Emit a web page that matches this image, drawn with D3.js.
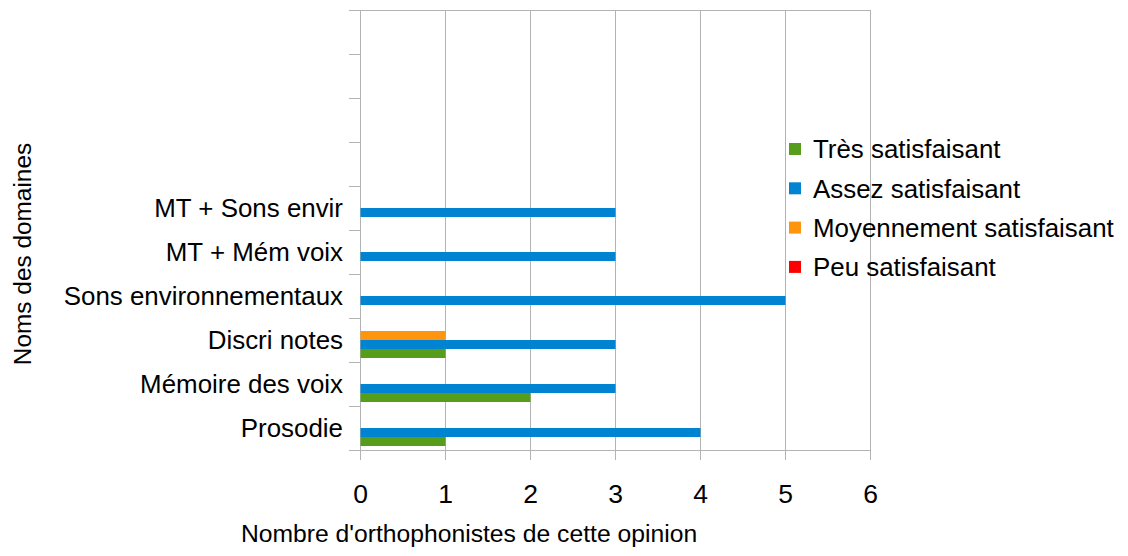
<!DOCTYPE html>
<html><head><meta charset="utf-8">
<script src="https://cdn.jsdelivr.net/npm/d3@7"></script>
<style>
html,body{margin:0;padding:0;background:#fff;}
svg text{font-family:"Liberation Sans",Arial,sans-serif;fill:#000;}
</style></head>
<body>
<svg id="c" width="1128" height="556"></svg>
<script>
const categories = ["Prosodie","Mémoire des voix","Discri notes","Sons environnementaux","MT + Mém voix","MT + Sons envir","","","",""];
const seriesNames = ["Très satisfaisant","Assez satisfaisant","Moyennement satisfaisant","Peu satisfaisant"];
const tres   = [1,2,1,0,0,0,0,0,0,0];
const assez  = [4,3,3,5,3,3,0,0,0,0];
const moyen  = [0,0,1,0,0,0,0,0,0,0];
const peu    = [0,0,0,0,0,0,0,0,0,0];
const xTicks = [0,1,2,3,4,5,6];
const colors = ["#579d1c","#0084d1","#ff950e","#ff0000"];
const xTitle = "Nombre d'orthophonistes de cette opinion";
const yTitle = "Noms des domaines";

const values = [tres, assez, moyen, peu];
const svg = d3.select("#c");
const L = 360, R = 870, T = 10, B = 450;
const grid = "#b3b3b3";
const fs = 25.9;

const x = d3.scaleLinear().domain([0,6]).range([L,R]);
const y = d3.scaleBand().domain(d3.range(categories.length)).range([B,T]).paddingInner(0).paddingOuter(0);
// within band: top to bottom = Peu, Moyen, Assez, Très
const inner = d3.scaleBand().domain([3,2,1,0]).range([0,y.bandwidth()]).paddingInner(0).paddingOuter(0.444);

// gridlines (vertical) incl. outer ticks
svg.append("g").selectAll("line").data(xTicks).join("line")
  .attr("x1", d=>x(d)+0.5).attr("x2", d=>x(d)+0.5)
  .attr("y1", T).attr("y2", B+10)
  .attr("stroke", grid).attr("stroke-width",1);
// top line and bottom axis line
svg.append("line").attr("x1",L-11).attr("x2",R+0.5).attr("y1",T+0.5).attr("y2",T+0.5).attr("stroke",grid);
svg.append("line").attr("x1",L-11).attr("x2",R+0.5).attr("y1",B+0.5).attr("y2",B+0.5).attr("stroke",grid);
// category boundary ticks
const bounds = d3.range(categories.length+1).map(i=> i<categories.length ? y(i)+y.bandwidth() : T);
svg.append("g").selectAll("line").data(bounds).join("line")
  .attr("x1", L-11).attr("x2", L)
  .attr("y1", d=>Math.round(d)+0.5).attr("y2", d=>Math.round(d)+0.5)
  .attr("stroke", grid);

// bars
values.forEach((arr, si) => {
  svg.append("g").selectAll("rect").data(arr.map((v,i)=>({v,i})).filter(d=>d.v>0)).join("rect")
    .attr("x", x(0)+0.5)
    .attr("y", d => y(d.i) + inner(si))
    .attr("width", d => x(d.v) - x(0))
    .attr("height", inner.bandwidth())
    .attr("fill", colors[si]);
});

// x axis labels
const xa = svg.append("g").attr("transform",`translate(0,${B})`)
  .call(d3.axisBottom(x).tickValues(xTicks).tickFormat(d3.format("d")).tickSize(0).tickPadding(34));
xa.select(".domain").remove();
xa.selectAll("text").style("font-size", "26.5px").attr("fill","#000");

// y axis labels
const ya = svg.append("g").attr("transform",`translate(${L},0)`)
  .call(d3.axisLeft(y).tickFormat(i=>categories[i]).tickSize(0).tickPadding(17));
ya.select(".domain").remove();
ya.selectAll("text").style("font-size", fs+"px").attr("fill","#000").attr("dy","0.36em");

// titles
svg.append("text").attr("x",469).attr("y",542).attr("text-anchor","middle")
  .style("font-size","24.7px").text(xTitle);
svg.append("text").attr("transform","translate(31,254) rotate(-90)").attr("text-anchor","middle")
  .style("font-size","24.4px").text(yTitle);

// legend
const lg = svg.append("g").selectAll("g").data(seriesNames).join("g")
  .attr("transform",(d,i)=>`translate(789,${149 + i*39.3})`);
lg.append("rect").attr("x",0).attr("y",-6).attr("width",12).attr("height",12).attr("fill",(d,i)=>colors[i]);
lg.append("text").attr("x",24).attr("y",0).attr("dy","0.36em").style("font-size",fs+"px").text(d=>d);
</script>
</body></html>
